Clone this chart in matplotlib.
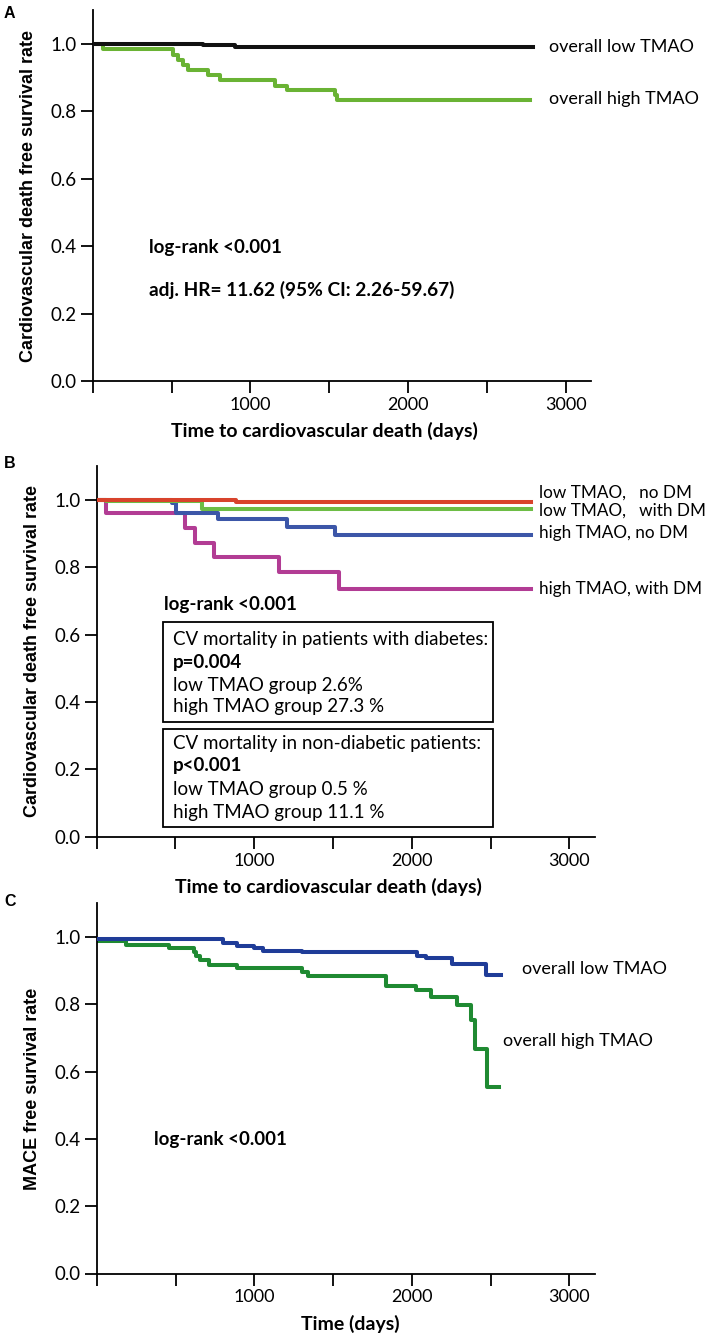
import matplotlib
matplotlib.use("Agg")
import matplotlib.pyplot as plt
from matplotlib.patches import Rectangle

# ---------------- data ----------------
# Panel A
a_low_t = [0, 700, 903, 2790]
a_low_s = [1.0, 0.995, 0.989, 0.989]
a_high_t = [0, 66, 510, 543, 572, 606, 732, 808, 1157, 1231, 1535, 1552, 2775]
a_high_s = [1.0, 0.984, 0.967, 0.953, 0.938, 0.921, 0.907, 0.892, 0.876, 0.864, 0.847, 0.832, 0.832]

# Panel B
b_lownodm_t = [0, 883, 2755]
b_lownodm_s = [1.0, 0.992, 0.992]
b_lowdm_t = [0, 60, 667, 2755]
b_lowdm_s = [1.0, 0.995, 0.972, 0.972]
b_highnodm_t = [0, 475, 504, 768, 1208, 1510, 2755]
b_highnodm_s = [1.0, 0.99, 0.962, 0.943, 0.919, 0.896, 0.896]
b_highdm_t = [0, 58, 561, 625, 745, 1157, 1539, 2755]
b_highdm_s = [1.0, 0.960, 0.916, 0.871, 0.829, 0.785, 0.735, 0.735]

# Panel C
c_low_t = [0, 803, 889, 998, 1056, 1305, 2033, 2090, 2255, 2470, 2566]
c_low_s = [0.993, 0.981, 0.973, 0.966, 0.958, 0.955, 0.944, 0.937, 0.919, 0.886, 0.886]
c_high_t = [0, 187, 460, 615, 633, 653, 710, 889, 1305, 1343, 1837, 2025, 2120,
            2286, 2379, 2399, 2480, 2552]
c_high_s = [0.988, 0.977, 0.966, 0.955, 0.944, 0.932, 0.918, 0.908, 0.896, 0.884,
            0.854, 0.841, 0.822, 0.797, 0.753, 0.668, 0.555, 0.555]

ytick_vals = [0.0, 0.2, 0.4, 0.6, 0.8, 1.0]
ytick_labels = ["0.0", "0.2", "0.4", "0.6", "0.8", "1.0"]
xtick_vals = [0, 500, 1000, 1500, 2000, 2500, 3000]
xtick_labels = ["", "", "1000", "", "2000", "", "3000"]

# ---------------- style ----------------
TXT = ["Lato", "DejaVu Sans"]
YLAB = ["Liberation Sans", "DejaVu Sans"]
W, H = 710, 1339
LW = 2.9
fig = plt.figure(figsize=(W / 100, H / 100), dpi=100)


def px_axes(left, right, top, bottom):
    return fig.add_axes([left / W, 1 - bottom / H, (right - left) / W, (bottom - top) / H])


def style(ax, ylabel, xlabel, xlab_x):
    ax.set_xlim(0, 3160)
    ax.set_ylim(0, 1.1)
    for s in ("top", "right"):
        ax.spines[s].set_visible(False)
    for s in ("left", "bottom"):
        ax.spines[s].set_linewidth(1.3)
    ax.set_yticks(ytick_vals)
    ax.set_yticklabels(ytick_labels, family=TXT, fontsize=13.5)
    ax.set_xticks(xtick_vals)
    ax.set_xticklabels(xtick_labels, family=TXT, fontsize=13)
    ax.tick_params(direction="out", length=8.5, width=1.3, pad=3)
    ax.set_ylabel(ylabel, family=YLAB, fontweight="bold", fontsize=13)
    ax.yaxis.label.set_va("center")
    ax.yaxis.set_label_coords(-0.129, 0.5)
    ax.set_xlabel(xlabel, family=TXT, fontweight="bold", fontsize=14)
    ax.xaxis.label.set_va("center")
    ax.xaxis.set_label_coords(xlab_x, -0.135)


# Panel A
axA = px_axes(92.7, 591, 10, 381)
axA.step(a_low_t, a_low_s, where="post", color="#111111", lw=LW, zorder=3)
axA.step(a_high_t, a_high_s, where="post", color="#6ab334", lw=LW, zorder=2)
style(axA, "Cardiovascular death free survival rate",
      "Time to cardiovascular death (days)", 0.466)
axA.text(2895, 0.99, "overall low TMAO", family=TXT, fontsize=13, va="center", ha="left")
axA.text(2895, 0.837, "overall high TMAO", family=TXT, fontsize=13, va="center", ha="left")
axA.text(360, 0.395, "log-rank <0.001", family=TXT, fontweight="bold", fontsize=13.5, va="center")
axA.text(360, 0.271, "adj. HR= 11.62 (95% CI: 2.26-59.67)", family=TXT,
         fontweight="bold", fontsize=13.8, va="center")
fig.text(4 / W, 1 - 14 / H, "A", family=YLAB, fontweight="bold", fontsize=11.5, va="center")

# Panel B
axB = px_axes(96.7, 594.5, 466, 836.7)
axB.step(b_highdm_t, b_highdm_s, where="post", color="#b23c94", lw=LW, zorder=2)
axB.step(b_highnodm_t, b_highnodm_s, where="post", color="#3c56a8", lw=LW, zorder=3)
axB.step(b_lowdm_t, b_lowdm_s, where="post", color="#6dbd45", lw=LW, zorder=4)
axB.step(b_lownodm_t, b_lownodm_s, where="post", color="#d8432c", lw=LW, zorder=5)
style(axB, "Cardiovascular death free survival rate",
      "Time to cardiovascular death (days)", 0.466)
axB.text(2805, 1.02, "low TMAO,   no DM", family=TXT, fontsize=12.3, va="center")
axB.text(2805, 0.967, "low TMAO,   with DM", family=TXT, fontsize=12.3, va="center")
axB.text(2805, 0.901, "high TMAO, no DM", family=TXT, fontsize=12.3, va="center")
axB.text(2805, 0.735, "high TMAO, with DM", family=TXT, fontsize=12.3, va="center")
axB.text(430, 0.688, "log-rank <0.001", family=TXT, fontweight="bold", fontsize=13.5, va="center")
axB.add_patch(Rectangle((423, 0.3416), 2515 - 423, 0.636 - 0.3416, fill=False,
                        lw=1.3, ec="black", zorder=6))
axB.add_patch(Rectangle((423, 0.030), 2515 - 423, 0.319 - 0.030, fill=False,
                        lw=1.3, ec="black", zorder=6))
box_lines1 = [("CV mortality in patients with diabetes:", "normal", 0.586),
              ("p=0.004", "bold", 0.518),
              ("low TMAO group 2.6%", "normal", 0.449),
              ("high TMAO group 27.3 %", "normal", 0.386)]
box_lines2 = [("CV mortality in non-diabetic patients:", "normal", 0.277),
              ("p<0.001", "bold", 0.210),
              ("low TMAO group 0.5 %", "normal", 0.139),
              ("high TMAO group 11.1 %", "normal", 0.071)]
for txt, wt, yy in box_lines1 + box_lines2:
    axB.text(486, yy, txt, family=TXT, fontweight=wt, fontsize=13.5, va="center")
fig.text(4 / W, 1 - 463.5 / H, "B", family=YLAB, fontweight="bold", fontsize=11.5, va="center")

# Panel C
axC = px_axes(96.8, 594.5, 903.3, 1273.5)
axC.step(c_high_t, c_high_s, where="post", color="#1f8a32", lw=LW, zorder=2)
axC.step(c_low_t, c_low_s, where="post", color="#1f3c98", lw=LW, zorder=3)
style(axC, "MACE free survival rate", "Time (days)", 0.51)
axC.text(2700, 0.906, "overall low TMAO", family=TXT, fontsize=13, va="center")
axC.text(2580, 0.691, "overall high TMAO", family=TXT, fontsize=13, va="center")
axC.text(360, 0.398, "log-rank <0.001", family=TXT, fontweight="bold", fontsize=13.5, va="center")
fig.text(4 / W, 1 - 902 / H, "C", family=YLAB, fontweight="bold", fontsize=11.5, va="center")

fig.savefig("out.png", dpi=100)
